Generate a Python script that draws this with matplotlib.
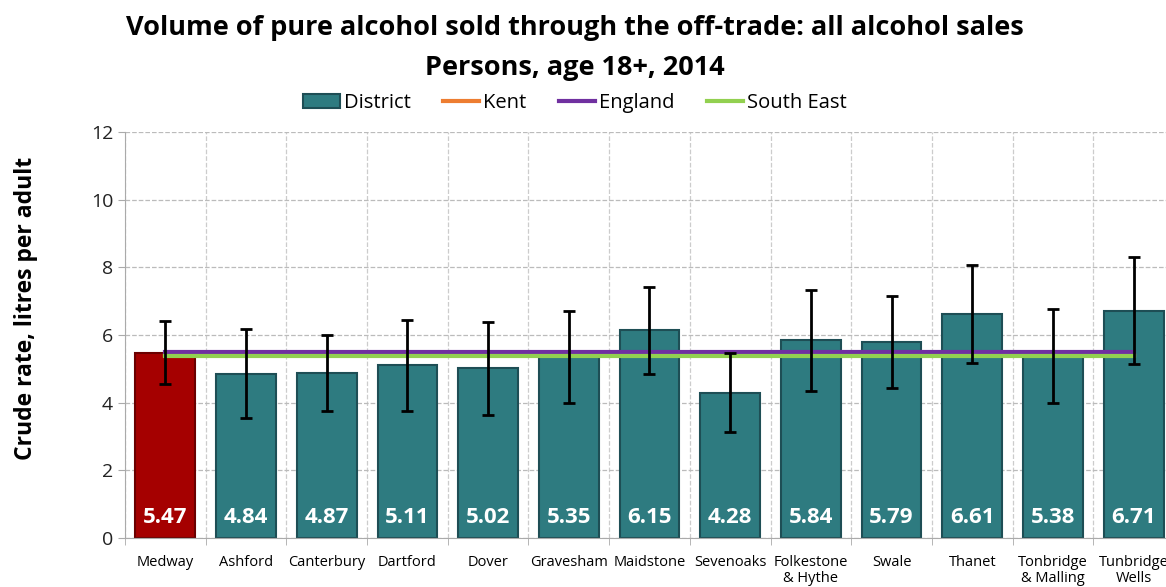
import numpy as np
import matplotlib.pyplot as plt
from matplotlib.patches import Patch

districts = ["Medway", "Ashford", "Canterbury", "Dartford", "Dover", "Gravesham",
             "Maidstone", "Sevenoaks", "Folkestone\n& Hythe", "Swale", "Thanet",
             "Tonbridge\n& Malling", "Tunbridge\nWells"]
values = [5.47, 4.84, 4.87, 5.11, 5.02, 5.35, 6.15, 4.28, 5.84, 5.79, 6.61, 5.38, 6.71]
ci_upper = [6.41, 6.18, 6.00, 6.44, 6.38, 6.71, 7.42, 5.47, 7.33, 7.15, 8.07, 6.77, 8.31]
ci_lower = [4.55, 3.55, 3.75, 3.75, 3.64, 4.00, 4.85, 3.13, 4.35, 4.43, 5.17, 4.00, 5.14]
kent = 5.40
england = 5.51
south_east = 5.38

plt.rcParams['font.family'] = ['Open Sans', 'DejaVu Sans']

fig = plt.figure(figsize=(11.66, 5.87), dpi=100)
# plot area runs a bit past the right edge, as in the original
ax = fig.add_axes([125 / 1166, 49 / 587, 1049 / 1166, 406 / 587])

x = np.arange(len(districts))
colors = ['#A50000'] + ['#2E7B80'] * (len(districts) - 1)
edges = ['#6B0000'] + ['#1E4E55'] * (len(districts) - 1)
ax.bar(x, values, width=0.74, color=colors, edgecolor=edges, linewidth=1.5, zorder=2)

vals = np.array(values)
yerr = [vals - np.array(ci_lower), np.array(ci_upper) - vals]
ax.errorbar(x, vals, yerr=yerr, fmt='none', ecolor='black', elinewidth=2,
            capsize=4.5, capthick=2, zorder=4)

l_kent, = ax.plot([x[0], x[-1]], [kent, kent], color='#ED7D31', lw=3, zorder=3)
l_eng, = ax.plot([x[0], x[-1]], [england, england], color='#7030A0', lw=3, zorder=3)
l_se, = ax.plot([x[0], x[-1]], [south_east, south_east], color='#92D050', lw=3, zorder=3)

for xi, v in zip(x, values):
    ax.text(xi, 0.6, f"{v:.2f}", ha='center', va='center', color='white',
            fontsize=16, fontweight='bold', zorder=5)

ax.set_xlim(-0.5, len(districts) - 0.5)
ax.set_ylim(0, 12)
ax.set_yticks(range(0, 13, 2))
ax.set_xticks(x)
ax.set_xticklabels(districts, fontsize=10.5, va='top', linespacing=1.15)
ax.tick_params(axis='x', length=0, pad=12)
ax.set_xticks(np.arange(-0.5, len(districts)), minor=True)
ax.tick_params(axis='x', which='minor', length=5, color='#AAAAAA', direction='out')
ax.tick_params(axis='y', labelsize=14, labelcolor='#222222', length=5, color='#AAAAAA')

ax.grid(axis='y', which='major', color='#BBBBBB', linestyle='--', lw=0.9, zorder=0)
ax.grid(axis='x', which='minor', color='#CCCCCC', linestyle='--', lw=0.9, zorder=0)
for side in ['top', 'right']:
    ax.spines[side].set_visible(False)
ax.spines['left'].set_color('#AAAAAA')
ax.spines['bottom'].set_color('#AAAAAA')

ax.set_ylabel("Crude rate, litres per adult", fontsize=16.5, fontweight='bold')
ax.yaxis.set_label_coords(-(125 - 38) / 1049, (538 - 308) / 406)

fig.text(575 / 1166, 1 - 28 / 587, "Volume of pure alcohol sold through the off-trade: all alcohol sales",
         ha='center', va='center', fontsize=19.5, fontweight='bold')
fig.text(575 / 1166, 1 - 68 / 587, "Persons, age 18+, 2014",
         ha='center', va='center', fontsize=19.5, fontweight='bold')

handles = [Patch(facecolor='#2E7B80', edgecolor='#1E4E55', linewidth=1.5), l_kent, l_eng, l_se]
fig.legend(handles, ['District', 'Kent', 'England', 'South East'],
           loc='center', bbox_to_anchor=(575 / 1166, 1 - 103 / 587), ncol=4,
           frameon=False, fontsize=14.5, handlelength=1.8, handletextpad=0.2,
           columnspacing=1.6)

fig.savefig("out.png", dpi=100)
